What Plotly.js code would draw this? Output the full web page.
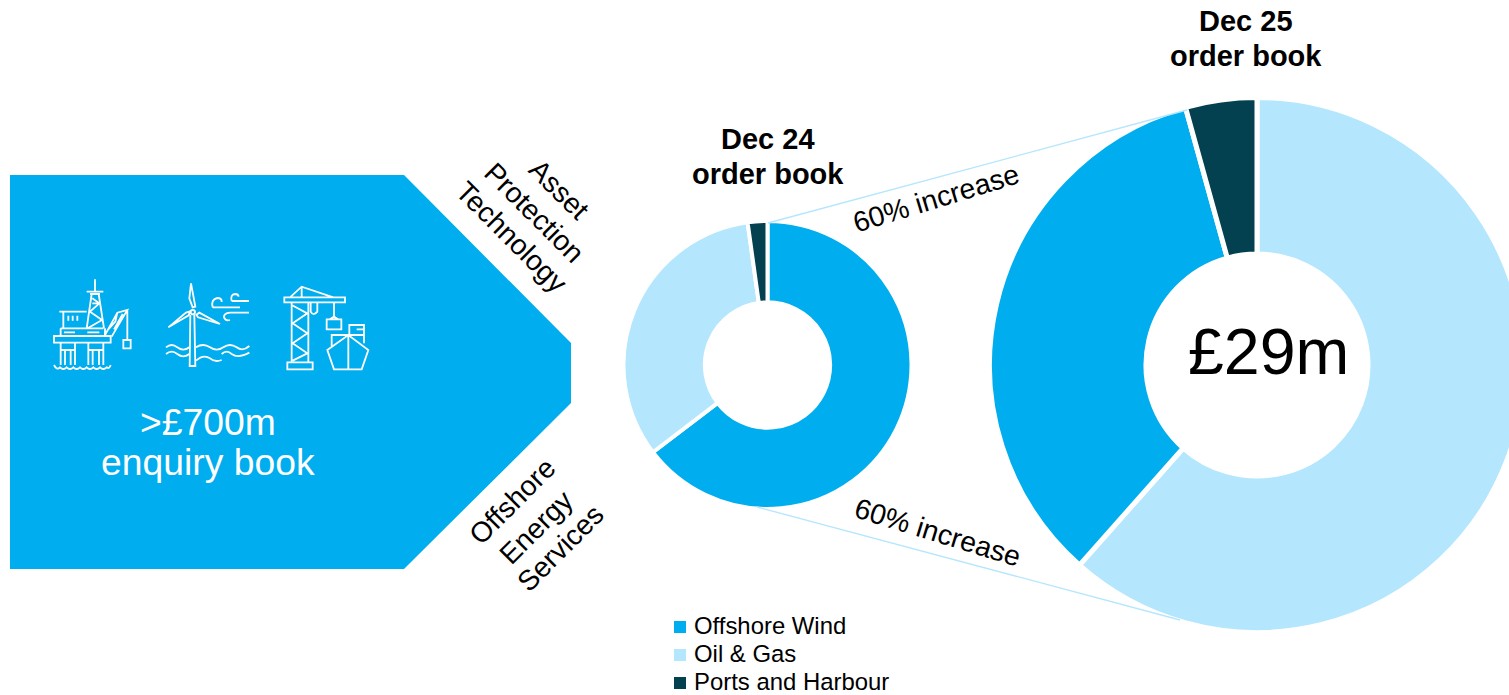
<!DOCTYPE html>
<html>
<head>
<meta charset="utf-8">
<script src="https://cdn.plot.ly/plotly-3.0.1.min.js"></script>
<style>html,body{margin:0;padding:0;background:#fff;overflow:hidden;width:1509px;height:695px}#wrap{width:1509px;height:695px;overflow:hidden}</style>
</head>
<body>
<div id="wrap"><div id="chart"></div></div>
<script>
// ---- data ----
const dec24Labels = ["Offshore Wind", "Oil & Gas", "Ports and Harbour"];
const dec24Values = [11.7, 6.0, 0.4];
const dec25Labels = ["Oil & Gas", "Offshore Wind", "Ports and Harbour"];
const dec25Values = [17.85, 9.9, 1.25];
const legendLabels = ["Offshore Wind", "Oil & Gas", "Ports and Harbour"];
const palette = {"Offshore Wind": "#00ADEE", "Oil & Gas": "#B4E6FD", "Ports and Harbour": "#034050"};

// ---- canvas: slightly wider than the window, so the big doughnut runs off the right edge ----
const W = 1540, H = 695;
const FONT = '"Liberation Sans", Arial, sans-serif';
const fx = x => x / W, fy = y => 1 - y / H;

function pie(labels, values, cx, cy, r, hole, lw) {
  return {
    type: "pie", labels, values, sort: false, direction: "clockwise", rotation: 0, hole,
    domain: {x: [fx(cx - r), fx(cx + r)], y: [fy(cy + r), fy(cy - r)]},
    marker: {colors: labels.map(l => palette[l]), line: {color: "#fff", width: lw}},
    textinfo: "none", hoverinfo: "label+value", showlegend: false
  };
}

function pathFrom(str, map) {
  const t = str.trim().split(/\s+/); let out = "", i = 0;
  while (i < t.length) {
    if (/^[A-Za-z]$/.test(t[i])) { out += t[i] + " "; i++; continue; }
    const p = map(+t[i], +t[i + 1]);
    out += p[0].toFixed(5) + "," + p[1].toFixed(5) + " "; i += 2;
  }
  return out.trim();
}
const pxMap = (x, y) => [fx(x), fy(y)];
const zoomMap = (x, y) => [fx(40 + x / 3), fy(270 + y / 3)];

const shapes = [];
const base = {xref: "paper", yref: "paper"};
// connector lines
shapes.push({...base, type: "line", x0: fx(768), y0: fy(223), x1: fx(1187), y1: fy(110), line: {color: "#B4E6FD", width: 1.3}});
shapes.push({...base, type: "line", x0: fx(757), y0: fy(507), x1: fx(1180), y1: fy(620), line: {color: "#B4E6FD", width: 1.3}});
// enquiry book arrow panel
shapes.push({...base, type: "path", path: pathFrom("M 10 175 L 404 175 L 571 343 L 571 403 L 404 569 L 10 569 Z", pxMap), fillcolor: "#00ADEE", line: {width: 0}});

// line icons (offshore rig, wind turbine, port crane)
const icons = [
  // rig: derrick
  "M 165 28 L 165 62 M 140 65 L 190 65 M 150 72 L 180 72 M 155 72 L 140 175 M 176 72 L 192 175 M 157 85 L 178 100 L 150 125 L 186 150 L 143 175 M 157 100 L 178 100",
  // rig: building and decks
  "M 58 125 L 140 125 M 70 125 L 70 175 M 85 137 L 85 152 M 98 137 L 98 152 M 112 137 L 112 152 M 62 175 L 190 175 M 62 175 L 62 198 M 195 175 L 195 198 M 72 187 L 105 187 M 142 187 L 178 187",
  "M 42 198 L 212 198 L 212 218 L 42 218 Z",
  // rig: legs
  "M 62 218 L 62 285 M 105 218 L 105 285 M 145 218 L 145 285 M 190 218 L 190 285 M 62 240 L 105 240 M 145 240 L 190 240 M 75 240 L 75 285 M 92 240 L 92 285 M 158 240 L 158 285 M 177 240 L 177 285",
  // rig: water
  "M 42 285 Q 50 302 60 292 Q 70 302 80 292 Q 90 302 100 292 Q 110 302 120 292 Q 130 302 140 292 Q 150 302 160 292 Q 170 302 180 292 Q 190 302 200 292 Q 208 298 212 285",
  // rig: crane
  "M 195 195 L 232 128 L 262 120 L 215 200 M 205 178 L 226 155 L 232 128 M 222 178 L 238 150 L 248 132 M 262 120 L 262 210 M 250 210 L 272 210 L 272 235 L 250 235 Z",
  // turbine: blades and hub
  "M 453 40 L 448 85 L 458 112 L 466 110 Z M 385 172 L 438 128 L 450 124 L 446 136 Z M 540 162 L 478 128 L 469 134 L 474 142 Z",
  "M 452 126 Q 452 120 458 120 Q 465 120 465 126 Q 465 133 458 133 Q 452 133 452 126 Z",
  "M 451 135 L 449 288 L 466 288 L 463 135",
  // turbine: wind
  "M 575 93 L 627 93 M 575 93 Q 570 74 585 72 Q 595 72 596 80 M 518 112 L 600 112 M 518 112 Q 512 88 532 84 Q 546 84 545 96 M 570 128 L 627 128 M 570 128 Q 550 130 552 142 Q 556 154 570 150",
  // turbine: sea
  "M 378 232 Q 395 218 412 232 Q 430 246 448 232 M 468 232 Q 490 218 510 232 Q 530 246 550 232 Q 570 218 590 232 Q 608 246 628 228",
  "M 378 252 Q 395 238 412 252 Q 430 266 448 252 M 545 252 Q 560 238 575 252 Q 595 266 628 248",
  "M 468 272 Q 490 252 510 265 Q 525 278 545 270",
  // crane: tower, base, jib
  "M 755 98 L 755 275 M 805 98 L 805 275 M 755 105 L 802 130 L 758 160 L 802 190 L 758 220 L 802 250 L 758 272 M 742 277 L 818 277 L 818 298 L 742 298 Z",
  "M 733 82 L 915 82 L 915 97 L 733 97 Z M 750 82 L 785 50 L 880 82 M 785 50 L 785 82",
  "M 812 98 L 812 125 Q 820 140 832 125 L 832 98 M 882 97 L 882 145 M 860 148 L 904 148 L 904 178 L 860 178 Z M 870 148 L 882 140 L 894 148",
  // crane: ship
  "M 862 240 L 925 195 L 985 240 L 965 298 L 882 298 Z M 925 195 L 925 298 M 875 228 L 875 195 L 925 195 M 925 195 L 972 195 L 972 220 M 928 195 L 928 165 L 972 165 L 972 195 M 950 178 L 972 178"
];
icons.forEach(p => shapes.push({...base, type: "path", path: pathFrom(p, zoomMap), line: {color: "#fff", width: 1.8}, fillcolor: "rgba(0,0,0,0)"}));

// text helper
const ann = [];
function label(text, x, y, size, o) {
  ann.push(Object.assign({xref: "paper", yref: "paper", x: fx(x), y: fy(y), text, showarrow: false,
    xanchor: "center", yanchor: "middle", font: {family: FONT, size, color: "#000"}}, o || {}));
}
label(">£700m", 207.5, 422, 37.3, {font: {family: FONT, size: 37.3, color: "#fff"}});
label("enquiry book", 207.5, 462, 37.3, {font: {family: FONT, size: 37.3, color: "#fff"}});
label("<b>Dec 24</b>", 767.5, 139, 29);
label("<b>order book</b>", 768, 174, 29);
label("<b>Dec 25</b>", 1246, 21, 29);
label("<b>order book</b>", 1246, 56, 29);
label("£29m", 1268, 352, 64.5);
label("60% increase", 936, 198, 28.4, {textangle: -17});
label("60% increase", 937.5, 531.5, 28.4, {textangle: 17});
label("Asset", 559, 189, 28.3, {textangle: 45});
label("Protection", 534, 212, 28.3, {textangle: 45});
label("Technology", 512, 237, 28.3, {textangle: 45});
label("Offshore", 512, 501, 28.3, {textangle: -45});
label("Energy", 536, 527, 28.3, {textangle: -45});
label("Services", 560, 548, 28.3, {textangle: -45});

// legend
legendLabels.forEach((name, i) => {
  const y = 626 + i * 28;
  shapes.push({...base, type: "rect", x0: fx(674), x1: fx(686), y0: fy(y - 5), y1: fy(y + 7), fillcolor: palette[name], line: {width: 0}});
  label(name, 692, y - 0.6, 23.9, {xanchor: "left"});
});

const traces = [
  pie(dec24Labels, dec24Values, 767.5, 365, 144, 0.435, 4),
  pie(dec25Labels, dec25Values, 1257, 365, 267.5, 0.415, 5)
];
Plotly.newPlot("chart", traces, {
  width: W, height: H, autosize: false,
  margin: {l: 0, r: 0, t: 0, b: 0},
  paper_bgcolor: "#fff", plot_bgcolor: "#fff",
  showlegend: false, shapes, annotations: ann,
  font: {family: FONT}
}, {displayModeBar: false, responsive: false});
</script>
</body>
</html>
